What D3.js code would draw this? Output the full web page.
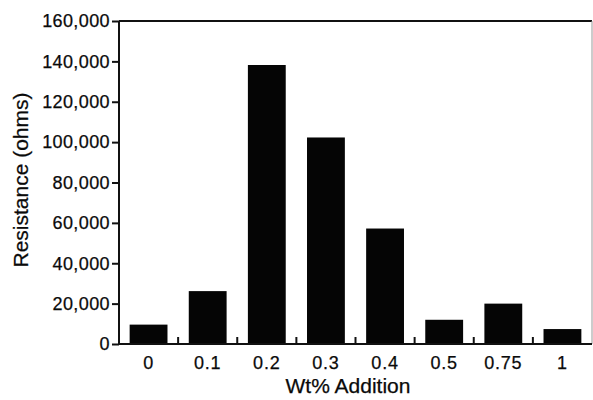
<!DOCTYPE html>
<html>
<head>
<meta charset="utf-8">
<script src="https://cdn.jsdelivr.net/npm/d3@7"></script>
<style>
  html, body { margin: 0; padding: 0; background: #fff; }
  svg { display: block; }
  text { font-family: "Liberation Sans", Arial, Helvetica, sans-serif; fill: #0a0a0a; stroke: #0a0a0a; stroke-width: 0.25px; }
</style>
</head>
<body>
<svg id="chart" width="593" height="400"></svg>
<script>
const categories = ["0", "0.1", "0.2", "0.3", "0.4", "0.5", "0.75", "1"];
const resistance = [9600, 26200, 138200, 102300, 57200, 12000, 20000, 7400];
const yTicks = [0, 20000, 40000, 60000, 80000, 100000, 120000, 140000, 160000];
const xTitle = "Wt% Addition";
const yTitle = "Resistance (ohms)";

const svg = d3.select("#chart");
const plotL = 119, plotR = 592, plotT = 21, plotB = 344;

const x = d3.scaleBand().domain(categories).range([plotL, plotR])
  .paddingInner(0.36).paddingOuter(0.18);
const y = d3.scaleLinear().domain([0, 160000]).range([plotB, plotT]);

// bars
svg.append("g").selectAll("rect").data(categories).join("rect")
  .attr("x", d => x(d))
  .attr("y", (d, i) => y(resistance[i]))
  .attr("width", x.bandwidth())
  .attr("height", (d, i) => y(0) - y(resistance[i]))
  .attr("fill", "#050505");

// frame: top & right
svg.append("line").attr("x1", plotL).attr("x2", plotR).attr("y1", plotT).attr("y2", plotT)
  .attr("stroke", "#111").attr("stroke-width", 2);
svg.append("line").attr("x1", plotR).attr("x2", plotR).attr("y1", plotT).attr("y2", plotB)
  .attr("stroke", "#999").attr("stroke-width", 1);

// y axis
const fmt = d3.format(",");
const yAxis = d3.axisLeft(y).tickValues(yTicks).tickFormat(fmt).tickSize(7).tickPadding(2);
const gy = svg.append("g").attr("transform", `translate(${plotL},0)`).call(yAxis);
gy.select(".domain").attr("stroke", "#111").attr("stroke-width", 2).attr("d", `M0,${plotT}V${plotB}`);
gy.selectAll(".tick line").attr("stroke", "#111").attr("stroke-width", 2);
gy.selectAll(".tick text").attr("font-size", 18).attr("fill", "#0a0a0a")
  .style("font-family", "'Liberation Sans', Arial, sans-serif").attr("letter-spacing", 0.4);

// x axis
const step = x.step();
const boundaries = categories.slice(1).map(d => x(d) - step * x.paddingInner() / 2);
const gx = svg.append("g");
gx.append("line").attr("x1", plotL - 1).attr("x2", plotR).attr("y1", plotB).attr("y2", plotB)
  .attr("stroke", "#111").attr("stroke-width", 2);
gx.selectAll("line.tk").data(boundaries).join("line").attr("class", "tk")
  .attr("x1", d => d).attr("x2", d => d).attr("y1", plotB).attr("y2", plotB - 7)
  .attr("stroke", "#111").attr("stroke-width", 2);
gx.selectAll("text").data(categories).join("text")
  .attr("x", d => x(d) + x.bandwidth() / 2)
  .attr("y", 369)
  .attr("text-anchor", "middle")
  .attr("font-size", 18)
  .attr("letter-spacing", 0.8)
  .text(d => d);

// titles
svg.append("text").attr("x", 348).attr("y", 393).attr("text-anchor", "middle")
  .attr("font-size", 21).text(xTitle);
svg.append("text").attr("transform", "translate(28,180) rotate(-90)")
  .attr("text-anchor", "middle").attr("font-size", 21).text(yTitle);
</script>
</body>
</html>
